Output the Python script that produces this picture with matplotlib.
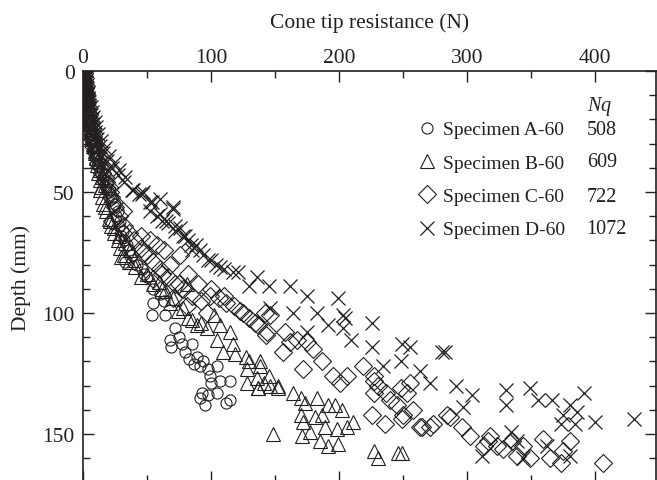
import matplotlib
matplotlib.use("Agg")
import matplotlib.pyplot as plt
from matplotlib.ticker import MultipleLocator

plt.rcParams['font.family'] = ['Liberation Serif', 'DejaVu Serif']
plt.rcParams['mathtext.fontset'] = 'custom'
plt.rcParams['mathtext.it'] = 'Liberation Serif:italic'

ink = '#231f20'
fs = 15.5

# Specimen A-60 (circles): cone tip resistance (N), depth (mm)
a_x = [0.5, 0.5, 1, 1, 1, 1.5, 1.5, 2, 2, 2, 2.5, 3, 3, 3.5, 4, 4.5, 5, 6, 7, 8, 9,
       10, 11, 13, 15, 17, 19, 21, 23, 25, 27, 29, 31, 32, 36, 33, 48, 50, 55, 60,
       63, 55, 54, 64, 72, 68, 75, 69, 77, 80, 85, 83, 89, 87, 91, 94, 98, 105, 99,
       100, 107, 115, 105, 93, 98, 91, 115, 112, 95,
       1, 1.5, 2, 2.5, 3, 3.5, 4, 5, 5.5, 6.5, 8, 9, 10, 12, 14, 16, 18, 20, 22, 24,
       26, 28, 30, 34, 38, 42, 46]
a_y = [0, 1, 2, 3, 4, 5, 6, 7, 8, 9, 10, 12, 14, 16, 18, 20, 22, 24, 26, 28, 30,
       32, 35, 38, 40, 43, 46, 49, 52, 55, 58, 62, 66, 70, 74, 79, 84, 85, 90, 92,
       95, 96, 101, 101, 106, 111, 110, 114, 113, 116, 113, 119, 118, 121, 122, 120,
       123, 122, 126, 129, 128, 128, 133, 133, 134, 135, 136, 137, 138,
       11, 13, 15, 17, 19, 21, 23, 25, 27, 29, 31, 33, 36, 39, 42, 45, 48, 50, 53, 56,
       60, 64, 68, 72, 76, 80, 82]

# Specimen B-60 (triangles)
b_x = [1, 1, 1.5, 2, 2, 3, 3, 4, 4.5, 5, 6, 7, 8, 9, 10, 11, 12, 13, 14, 15, 16,
       18, 20, 22, 24, 27, 29, 32, 36, 41, 45, 59, 64, 70, 81, 78, 82, 89, 97, 102,
       107, 115, 105, 117, 109, 119, 127, 130, 138, 128, 136, 141, 152, 128, 137,
       138, 145, 137, 152, 146, 164, 170, 173, 183, 170, 172, 181, 187, 191, 197,
       202, 189, 198, 206, 211, 177, 171, 185, 191, 199, 148, 227, 230, 246, 249,
       0.5, 1, 1.5, 2, 2.5, 3, 3.5, 3.5, 4, 5, 6, 7, 8, 9, 11, 13, 15, 17, 13, 17,
       21, 24, 28, 33, 37, 30, 40, 50, 55, 62, 68, 74, 85, 92]
b_y = [0, 2, 4, 6, 8, 10, 12, 15, 18, 21, 24, 27, 30, 33, 36, 39, 42, 45, 48, 52,
       55, 58, 61, 64, 67, 70, 73, 76, 79, 81, 85, 87, 91, 94, 88, 98, 102, 105,
       106, 101, 105, 108, 111, 113, 116, 117, 118, 120, 122, 123, 127, 129, 130,
       129, 131, 120, 126, 131, 131, 130, 133, 135, 137, 135, 142, 145, 143, 142,
       138, 138, 140, 147, 148, 147, 145, 149, 151, 153, 155, 154, 150, 157, 160,
       158, 158,
       1, 3, 5, 7, 9, 11, 13, 16, 19, 22, 25, 28, 31, 34, 37, 41, 44, 47, 49, 56,
       62, 65, 68, 71, 74, 77, 78, 84, 88, 90, 96, 99, 103, 104]

# Specimen C-60 (diamonds)
c_x = [1, 1.5, 2, 2.5, 3, 4, 5, 6, 7, 8, 9, 10, 12, 14, 17, 20, 22, 25, 28, 32,
       36, 40, 45, 50, 55, 60, 66, 72, 78, 85, 92, 47, 55, 62, 75, 70, 81, 99, 106,
       112, 123, 130, 137, 146, 144, 158, 167, 175, 97, 134, 143, 156, 172, 162, 180,
       187, 195, 201, 219, 227, 230, 237, 226, 236, 245, 250, 258, 263, 271, 284,
       253, 142, 206, 227, 249, 265, 273, 287, 296, 302, 318, 323, 328, 339, 344,
       349, 359, 365, 373, 375, 380, 406, 313, 316, 335, 240, 248, 255, 227,
       0.5, 1, 1.5, 2, 2.5, 3, 4, 5, 6, 7, 8, 10, 12, 15, 18, 21, 24, 31, 23, 31,
       45, 63, 76, 52, 58, 68, 82, 90, 100, 110, 118, 125]
c_y = [0, 3, 6, 9, 12, 15, 18, 21, 24, 27, 30, 33, 36, 40, 44, 48, 52, 56, 60, 64,
       67, 70, 73, 76, 79, 82, 85, 88, 90, 93, 95, 75, 86, 84, 88, 94, 97, 93, 94,
       96, 99, 102, 105, 101, 108, 108, 111, 112, 100, 104, 109, 116, 123, 112, 115,
       120, 126, 129, 122, 126, 130, 133, 142, 146, 138, 142, 140, 147, 147, 142,
       133, 100, 126, 128, 144, 147, 146, 143, 147, 151, 151, 155, 156, 159, 155,
       160, 152, 160, 162, 157, 153, 162, 155, 153, 153, 136, 131, 129, 133,
       1, 4, 7, 10, 13, 16, 19, 22, 25, 28, 31, 34, 38, 42, 46, 50, 54, 58, 62, 67,
       68, 74, 76, 70, 72, 80, 84, 88, 90, 93, 97, 100]

# Specimen D-60 (crosses)
d_x = [1, 1.5, 2, 2.5, 3, 3.5, 4, 4.5, 5, 6, 7, 8, 9, 11, 13, 16, 19, 23, 27, 32,
       38, 44, 47, 54, 70, 60, 52, 58, 62, 76, 66, 72, 78, 82, 88, 85, 94, 100, 107,
       117, 121, 136, 145, 130, 162, 175, 199, 146, 183, 203, 164, 226, 191, 175,
       209, 205, 203, 226, 249, 255, 280, 283, 234, 248, 263, 271, 291, 304, 297,
       330, 330, 349, 355, 366, 380, 391, 375, 386, 373, 384, 400, 430, 312, 334,
       339, 362, 380, 344,
       1, 1.5, 2, 3, 3.5, 4, 5, 6, 7, 8, 9, 10, 12, 14, 17, 20, 24, 28, 33, 39, 46,
       52, 70, 60, 84, 91, 65, 72, 80, 98, 104, 110]
d_y = [0, 2, 4, 6, 8, 10, 12, 14, 16, 18, 20, 22, 25, 28, 31, 34, 37, 40, 43, 46,
       49, 51, 50, 54, 56, 53, 58, 60, 62, 65, 63, 66, 68, 70, 72, 74, 76, 78, 81,
       83, 83, 85, 89, 89, 89, 93, 94, 98, 100, 101, 100, 104, 105, 108, 111, 102,
       106, 114, 113, 114, 116, 116, 122, 120, 124, 129, 130, 134, 139, 132, 138,
       131, 136, 136, 138, 133, 142, 141, 146, 146, 145, 144, 159, 149, 153, 155,
       159, 160,
       1, 3, 5, 7, 9, 11, 13, 15, 17, 19, 21, 23, 26, 29, 32, 35, 38, 41, 44, 49, 51,
       54, 57, 59, 72, 74, 62, 64, 68, 78, 80, 82]

specimens = ['Specimen A-60', 'Specimen B-60', 'Specimen C-60', 'Specimen D-60']
nq_values = ['508', '609', '722', '1072']

fig = plt.figure(figsize=(6.57, 4.81), dpi=100)
ax = fig.add_axes([83 / 657, -0.005, 573 / 657, 0.8553])

ax.plot(a_x, a_y, 'o', ms=8, mfc='none', mec=ink, mew=0.8, label=specimens[0])
ax.plot(b_x, b_y, '^', ms=10, mfc='none', mec=ink, mew=0.8, label=specimens[1])
ax.plot(c_x, c_y, 'D', ms=9.5, mfc='none', mec=ink, mew=0.8, label=specimens[2])
ax.plot(d_x, d_y, 'x', ms=10, mfc='none', mec=ink, mew=0.9, label=specimens[3])

ax.set_xlim(0, 447.5)
ax.set_ylim(170, 0)

ax.xaxis.set_major_locator(MultipleLocator(100))
ax.xaxis.set_minor_locator(MultipleLocator(50))
ax.yaxis.set_major_locator(MultipleLocator(50))
ax.yaxis.set_minor_locator(MultipleLocator(10))

ax.xaxis.tick_top()
ax.xaxis.set_label_position('top')
ax.tick_params(which='both', direction='in', top=True, bottom=True, left=True, right=True,
               labeltop=True, labelbottom=False, labelsize=fs, colors=ink, width=1.0)
ax.tick_params(which='major', length=8)
ax.tick_params(which='minor', length=5)
ax.tick_params(axis='x', which='major', pad=3)
ax.tick_params(axis='y', which='major', pad=6)
for s in ax.spines.values():
    s.set_linewidth(1.2)
    s.set_color(ink)

ax.set_xlabel('Cone tip resistance (N)', fontsize=fs, color=ink, labelpad=15)
ax.set_ylabel('Depth (mm)', fontsize=fs, color=ink, labelpad=8)

# legend with the Nq column next to it
leg = ax.legend(loc='upper left', bbox_to_anchor=(0.585, 0.879), frameon=False,
                fontsize=14, handlelength=0.9, handletextpad=0.35, labelspacing=0.81,
                borderpad=0, borderaxespad=0)
for t in leg.get_texts():
    t.set_color(ink)

ax.text(0.879, 0.917, r'$\mathit{Nq}$', transform=ax.transAxes, fontsize=14.5,
        color=ink, ha='left', va='center')
row_y = [0.859, 0.779, 0.696, 0.616]
for yy, v in zip(row_y, nq_values):
    ax.text(0.879, yy, v, transform=ax.transAxes, fontsize=14.5, color=ink,
            ha='left', va='center')

fig.savefig('out.png', dpi=100)
